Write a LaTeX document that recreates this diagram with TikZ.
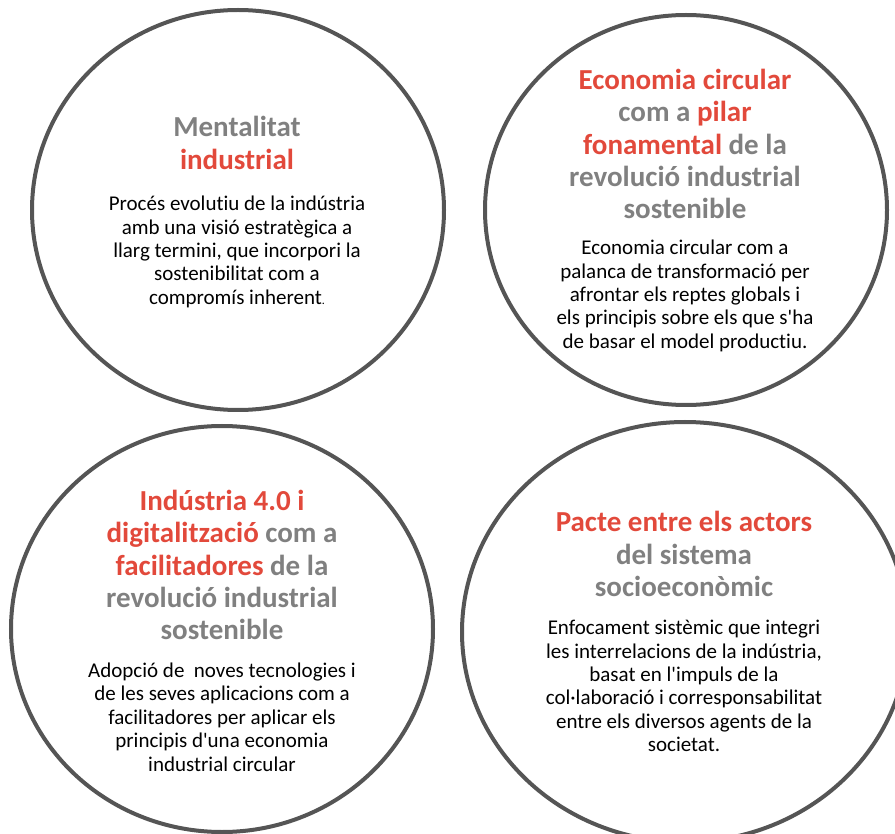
\documentclass[tikz,border=0pt]{standalone}
\usepackage{fontspec}
\setmainfont{Carlito}[Ligatures={TeXOff,CommonOff}]
\usetikzlibrary{shapes.geometric}
\definecolor{ringgray}{HTML}{555555}
\definecolor{headred}{HTML}{E2493B}
\definecolor{headgray}{HTML}{808080}
\tikzset{
  % outline of each bubble
  bubble/.style={draw=ringgray,line width=4pt,ellipse,inner sep=0pt},
  % bold title, grey by default
  headline/.style={align=center,text=headgray,font=\fontsize{29}{32.3}\selectfont\bfseries},
  % body text under the title
  blurb/.style={align=center,text=black,font=\fontsize{21}{23.4}\selectfont},
}
\newcommand{\hot}[1]{\textcolor{headred}{#1}}
\begin{document}
\begin{tikzpicture}[x=1pt,y=-1pt]
\useasboundingbox (0,0) rectangle (895,834);
\clip (0,0) rectangle (895,834);
\node[bubble,minimum width=412pt,minimum height=400pt] (mind) at (238,210){};
\node[bubble,minimum width=402pt,minimum height=390pt] (circ) at (686,210){};
\node[bubble,minimum width=422pt,minimum height=406pt] (digi) at (222,629){};
\node[bubble,minimum width=446pt,minimum height=420pt] (pact) at (685,632){};
\node[headline] (mindhead) at (237,143){Mentalitat\\\hot{industrial}};
\node[blurb] (mindtext) at (237,252){Procés evolutiu de la indústria\\amb una visió estratègica a\\llarg termini, que incorpori la\\sostenibilitat com a\\compromís inherent{\fontsize{12}{14}\selectfont.}};
\node[headline] (circhead) at (685,144){\hot{Economia circular}\\com a \hot{pilar}\\\hot{fonamental} de la\\revolució industrial\\sostenible};
\node[blurb] (circtext) at (685,296){Economia circular com a\\palanca de transformació per\\afrontar els reptes globals i\\els principis sobre els que s'ha\\de basar el model productiu.};
\node[headline] (digihead) at (222,565){\hot{Indústria 4.0 i}\\\hot{digitalització} com a\\\hot{facilitadores} de la\\revolució industrial\\sostenible};
\node[blurb] (digitext) at (222,717){Adopció de\ \ noves tecnologies i\\de les seves aplicacions com a\\facilitadores per aplicar els\\principis d'una economia\\industrial circular};
\node[headline] (pacthead) at (684,554){\hot{Pacte entre els actors}\\del sistema\\socioeconòmic};
\node[blurb] (pacttext) at (684,686){Enfocament sistèmic que integri\\les interrelacions de la indústria,\\basat en l'impuls de la\\col·laboració i corresponsabilitat\\entre els diversos agents de la\\societat.};
\end{tikzpicture}
\end{document}
